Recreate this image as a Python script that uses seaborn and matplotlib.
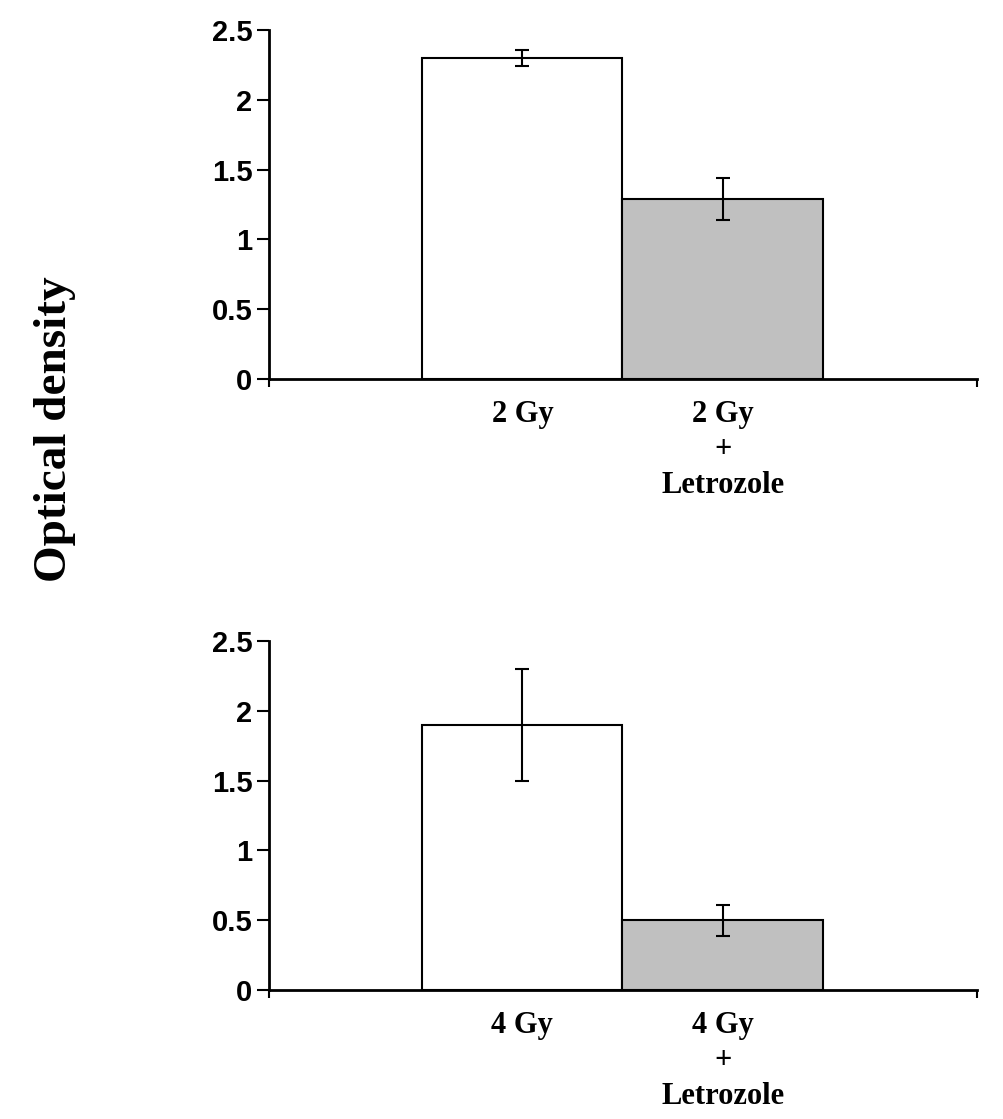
import numpy as np
import pandas as pd
import matplotlib
matplotlib.use('Agg')
import matplotlib.pyplot as plt
import seaborn as sns

sns.set_style('ticks')
plt.rcParams['font.family'] = ['Liberation Sans', 'DejaVu Sans']
plt.rcParams['text.color'] = 'black'
plt.rcParams['xtick.color'] = 'black'
plt.rcParams['ytick.color'] = 'black'
plt.rcParams['xtick.labelcolor'] = 'black'
plt.rcParams['ytick.labelcolor'] = 'black'

# data
labels_top = ['2 Gy', '2 Gy\n+\nLetrozole']
means_top = [2.30, 1.29]
err_top = [0.06, 0.15]

labels_bot = ['4 Gy', '4 Gy\n+\nLetrozole']
means_bot = [1.90, 0.50]
err_bot = [0.40, 0.11]

bar_colors = ['white', '#c0c0c0']
yticks = [0, 0.5, 1, 1.5, 2, 2.5]
ytick_text = ['0', '0.5', '1', '1.5', '2', '2.5']

fig = plt.figure(figsize=(10.04, 11.19), dpi=100)
ax1 = fig.add_axes([0.268, 0.6613, 0.705, 0.3119])
ax2 = fig.add_axes([0.268, 0.1153, 0.705, 0.3119])


def draw_panel(ax, labels, means, errs):
    df = pd.DataFrame({'cond': labels, 'od': means})
    sns.barplot(data=df, x='cond', y='od', hue='cond', palette=bar_colors,
                width=1.0, edgecolor='black', linewidth=1.5, errorbar=None,
                legend=False, ax=ax)
    ax.errorbar(np.arange(len(means)), means, yerr=errs, fmt='none',
                ecolor='black', elinewidth=1.5, capsize=5, capthick=1.5)
    ax.set_xlim(-1.265, 2.27)
    ax.set_ylim(0, 2.5)
    ax.set_yticks(yticks)
    ax.set_yticklabels(ytick_text, fontsize=21, fontweight='bold',
                       family=['Liberation Sans', 'DejaVu Sans'])
    ax.set_xticks(range(len(labels)))
    ax.set_xticklabels(labels, fontsize=22, fontweight='bold',
                       family=['Liberation Serif', 'DejaVu Serif'],
                       linespacing=1.3)
    ax.tick_params(axis='x', length=0, pad=15)
    ax.tick_params(axis='y', length=9, width=1.5, direction='out', pad=3)
    # small tick marks at both ends of the x axis
    ax.set_xticks([-1.265, 2.27], minor=True)
    ax.tick_params(axis='x', which='minor', length=6, width=1.5, direction='out')
    ax.set_xlabel('')
    ax.set_ylabel('')
    for s in ['top', 'right']:
        ax.spines[s].set_visible(False)
    for s in ['left', 'bottom']:
        ax.spines[s].set_linewidth(2)
        ax.spines[s].set_color('black')


draw_panel(ax1, labels_top, means_top, err_top)
draw_panel(ax2, labels_bot, means_bot, err_bot)

fig.text(55 / 1004, 1 - 429 / 1119, 'Optical density', rotation=90,
         ha='center', va='center', fontsize=34, fontweight='bold',
         color='black', family=['Liberation Serif', 'DejaVu Serif'])

fig.savefig('out.png', dpi=100, facecolor='white')
